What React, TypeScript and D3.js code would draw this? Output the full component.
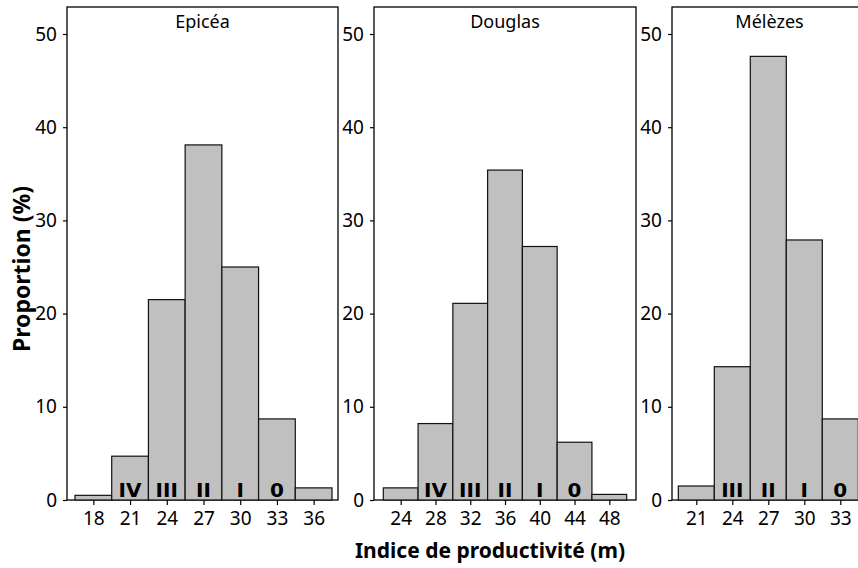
import React, { useEffect, useRef } from 'react';
import * as d3 from 'd3';

// Histogram data (proportion in %)
const epiceaBins = [18, 21, 24, 27, 30, 33, 36];
const epiceaValues = [0.5, 4.7, 21.5, 38.1, 25.0, 8.7, 1.3];
const epiceaClasses = ['', 'IV', 'III', 'II', 'I', '0', ''];

const douglasBins = [24, 28, 32, 36, 40, 44, 48];
const douglasValues = [1.3, 8.2, 21.1, 35.4, 27.2, 6.2, 0.6];
const douglasClasses = ['', 'IV', 'III', 'II', 'I', '0', ''];

const melezesBins = [21, 24, 27, 30, 33];
const melezesValues = [1.5, 14.3, 47.6, 27.9, 8.7];
const melezesClasses = ['', 'III', 'II', 'I', '0'];

const yTicks = [0, 10, 20, 30, 40, 50];

const panels = [
  { title: 'Epicéa', bins: epiceaBins, values: epiceaValues, classes: epiceaClasses, binWidth: 3, frame: [67, 338], range: [75, 332] },
  { title: 'Douglas', bins: douglasBins, values: douglasValues, classes: douglasClasses, binWidth: 4, frame: [374, 636], range: [383.3, 626.7] },
  { title: 'Mélèzes', bins: melezesBins, values: melezesValues, classes: melezesClasses, binWidth: 3, frame: [672, 867], range: [678.3, 858.3] },
];

const FONT = "'Noto Sans', 'DejaVu Sans', sans-serif";
const CLS_FONT = "'DejaVu Sans', Verdana, sans-serif";

const App = () => {
  const ref = useRef(null);

  useEffect(() => {
    const svg = d3.select(ref.current);
    svg.selectAll('*').remove();

    const top = 7;
    const bottom = 500;
    const y = d3.scaleLinear().domain([0, 50]).range([bottom, 34]);

    panels.forEach(p => {
      const half = p.binWidth / 2;
      const x = d3.scaleLinear()
        .domain([p.bins[0] - half, p.bins[p.bins.length - 1] + half])
        .range(p.range);

      const g = svg.append('g');

      // frame
      g.append('rect')
        .attr('x', p.frame[0])
        .attr('y', top)
        .attr('width', p.frame[1] - p.frame[0])
        .attr('height', bottom - top)
        .attr('fill', 'none')
        .attr('stroke', '#000')
        .attr('stroke-width', 1.3);

      // bars
      g.selectAll('rect.bar')
        .data(p.bins)
        .enter()
        .append('rect')
        .attr('class', 'bar')
        .attr('x', d => x(d - half))
        .attr('width', d => x(d + half) - x(d - half))
        .attr('y', (d, i) => y(p.values[i]))
        .attr('height', (d, i) => bottom - y(p.values[i]))
        .attr('fill', '#c0c0c0')
        .attr('stroke', '#111')
        .attr('stroke-width', 1.2);

      // class labels
      g.selectAll('text.cls')
        .data(p.bins)
        .enter()
        .append('text')
        .attr('class', 'cls')
        .attr('x', d => x(d))
        .attr('y', 496.5)
        .attr('text-anchor', 'middle')
        .style('font-family', CLS_FONT)
        .style('font-size', '20px')
        .style('font-weight', 'bold')
        .text((d, i) => p.classes[i]);

      // title
      g.append('text')
        .attr('x', (p.frame[0] + p.frame[1]) / 2)
        .attr('y', 28)
        .attr('text-anchor', 'middle')
        .style('font-family', FONT)
        .style('font-size', '18px')
        .text(p.title);

      // y axis
      const ya = g.append('g')
        .attr('transform', `translate(${p.frame[0]},0)`)
        .call(d3.axisLeft(y).tickValues(yTicks).tickSize(4).tickPadding(6));
      ya.select('.domain').remove();
      ya.selectAll('text').style('font-family', FONT).style('font-size', '19px').attr('fill', '#000');
      ya.selectAll('line').attr('stroke', '#000').attr('stroke-width', 1.2);

      // x axis
      const xa = g.append('g')
        .attr('transform', `translate(0,${bottom})`)
        .call(d3.axisBottom(x).tickValues(p.bins).tickFormat(d3.format('d')).tickSize(5).tickPadding(7));
      xa.select('.domain').remove();
      xa.selectAll('text').style('font-family', FONT).style('font-size', '19px').attr('fill', '#000');
      xa.selectAll('line').attr('stroke', '#000').attr('stroke-width', 1.2);
    });

    // axis titles
    svg.append('text')
      .attr('x', 490)
      .attr('y', 558)
      .attr('text-anchor', 'middle')
      .style('font-family', FONT)
      .style('font-size', '21px')
      .style('font-weight', 'bold')
      .text('Indice de productivité (m)');

    svg.append('text')
      .attr('transform', 'translate(30,269) rotate(-90)')
      .attr('text-anchor', 'middle')
      .style('font-family', FONT)
      .style('font-size', '23px')
      .style('font-weight', 'bold')
      .text('Proportion (%)');
  }, []);

  return (
    <div style={{ position: 'absolute', top: 0, left: 0, width: 858, height: 568, overflow: 'hidden', background: '#fff' }}>
      <svg ref={ref} width={858} height={568} style={{ display: 'block' }} />
    </div>
  );
};

export default App;
